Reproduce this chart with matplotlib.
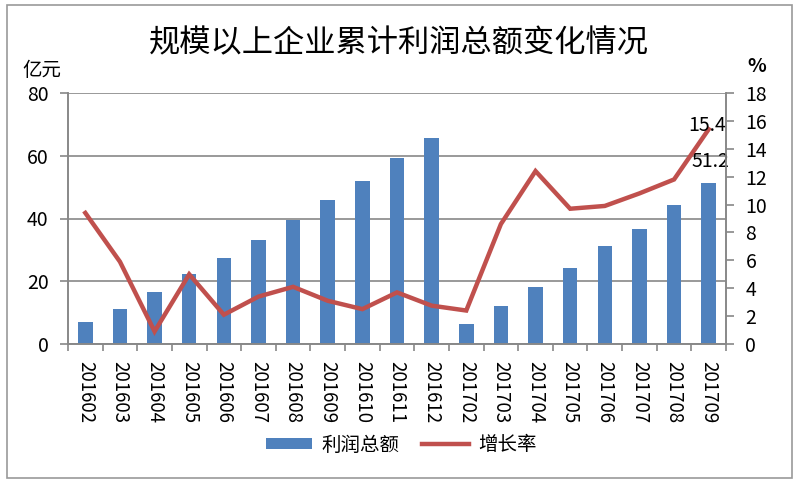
import matplotlib
matplotlib.use("Agg")
import matplotlib.pyplot as plt
import numpy as np
from matplotlib.patches import Rectangle

plt.rcParams['font.family'] = ['Noto Sans CJK SC', 'DejaVu Sans']

categories = ["201602", "201603", "201604", "201605", "201606", "201607", "201608",
              "201609", "201610", "201611", "201612", "201702", "201703", "201704",
              "201705", "201706", "201707", "201708", "201709"]
profit = [7.0, 11.2, 16.5, 22.3, 27.4, 33.1, 39.4, 45.8, 52.0, 59.4, 65.7,
          6.5, 12.2, 18.1, 24.3, 31.1, 36.8, 44.2, 51.2]
growth = [9.4, 5.9, 0.9, 5.0, 2.1, 3.4, 4.1, 3.1, 2.5, 3.7, 2.75,
          2.4, 8.6, 12.4, 9.7, 9.9, 10.8, 11.8, 15.4]

bar_color = "#4F81BD"
line_color = "#C0504D"
grid_color = "#888888"

fig = plt.figure(figsize=(7.98, 4.82), dpi=100)
ax = fig.add_axes([68/798, 1-344/482, (726-68)/798, (344-93)/482])
ax2 = ax.twinx()

x = np.arange(len(categories))
ax.bar(x, profit, width=0.42, color=bar_color, zorder=2, label="利润总额")
ax2.plot(x, growth, color=line_color, lw=3.2, solid_joinstyle='miter', zorder=3, label="增长率")

ax.set_xlim(-0.5, len(categories) - 0.5)
ax.set_ylim(0, 80)
ax.set_yticks([0, 20, 40, 60, 80])
ax2.set_ylim(0, 18)
ax2.set_yticks(range(0, 19, 2))

ax.yaxis.grid(True, color=grid_color, lw=1.2, zorder=0)
ax.set_axisbelow(True)

for a in (ax, ax2):
    a.spines['top'].set_visible(False)
    for s in ('left', 'right', 'bottom'):
        a.spines[s].set_color(grid_color)
        a.spines[s].set_linewidth(1.2)

ax.set_xticks(x)
ax.set_xticklabels(categories, rotation=-90, fontsize=13.5)
ax.tick_params(axis='x', which='major', length=0, pad=12)
ax.set_xticks(np.arange(-0.5, len(categories), 1), minor=True)
ax.tick_params(axis='x', which='minor', length=5, color=grid_color, width=1.2)
ax.tick_params(axis='y', length=6, color=grid_color, width=1.2, labelsize=14, pad=8)
ax2.tick_params(axis='y', length=6, color=grid_color, width=1.2, labelsize=14, pad=8)

ax2.annotate("15.4", (x[-1], growth[-1]), xytext=(-1, 3), textcoords='offset points',
             ha='center', va='center', fontsize=14, zorder=5)
ax.annotate("51.2", (x[-1], profit[-1]), xytext=(1, 16), textcoords='offset points',
            ha='center', va='center', fontsize=14, zorder=5)

fig.text(0.5, 1-43/482, "规模以上企业累计利润总额变化情况", ha='center', va='center', fontsize=22.5)
fig.text(42/798, 1-70/482, "亿元", ha='center', va='center', fontsize=14)
fig.text(757/798, 1-66/482, "%", ha='center', va='center', fontsize=14, fontweight='bold')

h1, l1 = ax.get_legend_handles_labels()
h2, l2 = ax2.get_legend_handles_labels()
fig.legend(h1 + h2, l1 + l2, loc='center', bbox_to_anchor=(401/798, 1-445/482), ncol=2,
           frameon=False, fontsize=14, handlelength=2.4, handleheight=0.5,
           handletextpad=0.45, columnspacing=1.2)

fig.patches.append(Rectangle((7/798, 4/482), 785/798, 473/482, transform=fig.transFigure,
                             fill=False, edgecolor="#999999", lw=1.2))

fig.savefig("out.png", dpi=100)
